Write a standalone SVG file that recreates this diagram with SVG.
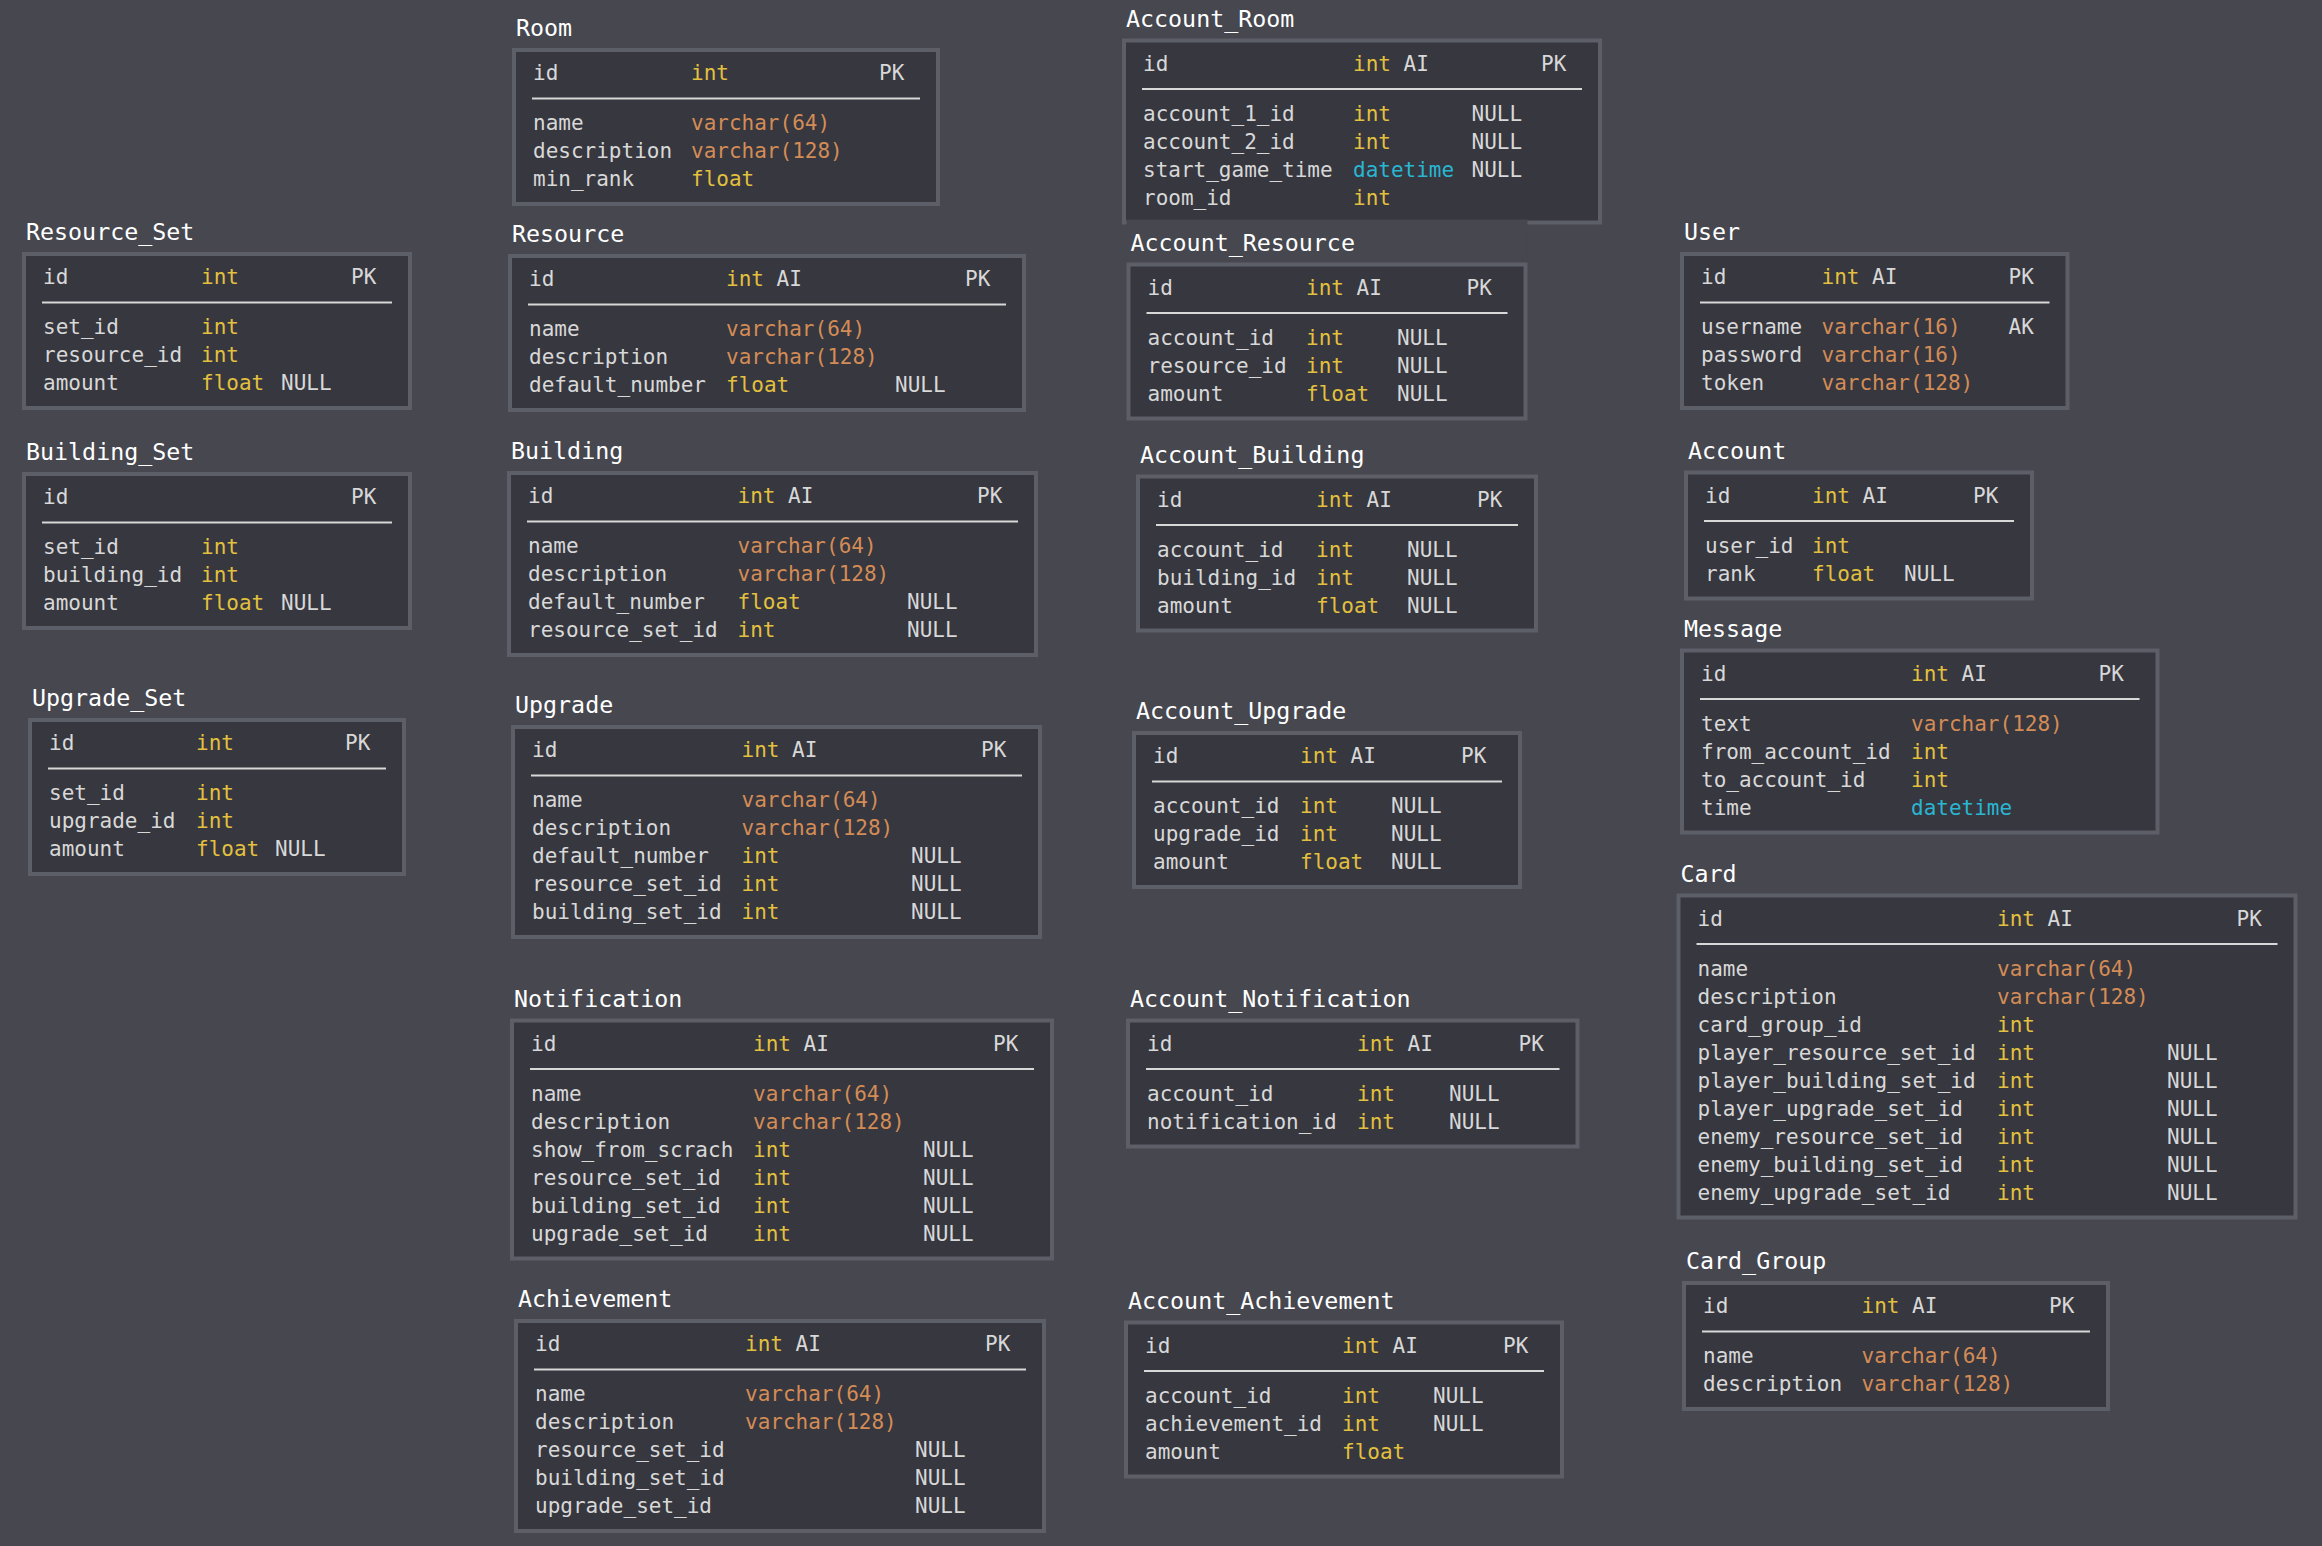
<svg xmlns="http://www.w3.org/2000/svg" width="2322" height="1546" viewBox="0 0 2322 1546">
<style>
.box{fill:#36373f;stroke:#5c5e68;stroke-width:4}
.sep{stroke:#d8d8d8;stroke-width:2}
.lbl{font-family:"DejaVu Sans Mono","Liberation Mono",monospace;font-size:23.3px;fill:#ffffff}
text.t{font-family:"DejaVu Sans Mono","Liberation Mono",monospace;font-size:21px;fill:#d8d8d8}
.y{fill:#e3c03e}
.o{fill:#d48c56}
.c{fill:#2ab6d2}
.w{fill:#d8d8d8}
</style>
<rect width="2322" height="1546" fill="#46474f"/>
<g id="connectors"></g>

<g id="Room" transform="translate(512,48)">
<text class="lbl" x="4" y="-12">Room</text>
<rect class="box" x="2" y="2" width="424" height="154"/>
<text class="t" y="32"><tspan x="21">id</tspan><tspan x="179" class="y">int</tspan><tspan x="367">PK</tspan></text>
<line class="sep" x1="20" y1="50.5" x2="408" y2="50.5"/>
<text class="t" y="82"><tspan x="21">name</tspan><tspan x="179" class="o">varchar(64)</tspan></text>
<text class="t" y="110"><tspan x="21">description</tspan><tspan x="179" class="o">varchar(128)</tspan></text>
<text class="t" y="138"><tspan x="21">min_rank</tspan><tspan x="179" class="y">float</tspan></text>
</g>

<g id="Resource_Set" transform="translate(22,252)">
<text class="lbl" x="4" y="-12">Resource_Set</text>
<rect class="box" x="2" y="2" width="386" height="154"/>
<text class="t" y="32"><tspan x="21">id</tspan><tspan x="179" class="y">int</tspan><tspan x="329">PK</tspan></text>
<line class="sep" x1="20" y1="50.5" x2="370" y2="50.5"/>
<text class="t" y="82"><tspan x="21">set_id</tspan><tspan x="179" class="y">int</tspan></text>
<text class="t" y="110"><tspan x="21">resource_id</tspan><tspan x="179" class="y">int</tspan></text>
<text class="t" y="138"><tspan x="21">amount</tspan><tspan x="179" class="y">float</tspan><tspan x="259">NULL</tspan></text>
</g>

<g id="Building_Set" transform="translate(22,472)">
<text class="lbl" x="4" y="-12">Building_Set</text>
<rect class="box" x="2" y="2" width="386" height="154"/>
<text class="t" y="32"><tspan x="21">id</tspan><tspan x="329">PK</tspan></text>
<line class="sep" x1="20" y1="50.5" x2="370" y2="50.5"/>
<text class="t" y="82"><tspan x="21">set_id</tspan><tspan x="179" class="y">int</tspan></text>
<text class="t" y="110"><tspan x="21">building_id</tspan><tspan x="179" class="y">int</tspan></text>
<text class="t" y="138"><tspan x="21">amount</tspan><tspan x="179" class="y">float</tspan><tspan x="259">NULL</tspan></text>
</g>

<g id="Upgrade_Set" transform="translate(28,718)">
<text class="lbl" x="4" y="-12">Upgrade_Set</text>
<rect class="box" x="2" y="2" width="374" height="154"/>
<text class="t" y="32"><tspan x="21">id</tspan><tspan x="168" class="y">int</tspan><tspan x="317">PK</tspan></text>
<line class="sep" x1="20" y1="50.5" x2="358" y2="50.5"/>
<text class="t" y="82"><tspan x="21">set_id</tspan><tspan x="168" class="y">int</tspan></text>
<text class="t" y="110"><tspan x="21">upgrade_id</tspan><tspan x="168" class="y">int</tspan></text>
<text class="t" y="138"><tspan x="21">amount</tspan><tspan x="168" class="y">float</tspan><tspan x="247">NULL</tspan></text>
</g>

<g id="Resource" transform="translate(508,254)">
<text class="lbl" x="4" y="-12">Resource</text>
<rect class="box" x="2" y="2" width="514" height="154"/>
<text class="t" y="32"><tspan x="21">id</tspan><tspan x="218" class="y">int</tspan><tspan class="w"> AI</tspan><tspan x="457">PK</tspan></text>
<line class="sep" x1="20" y1="50.5" x2="498" y2="50.5"/>
<text class="t" y="82"><tspan x="21">name</tspan><tspan x="218" class="o">varchar(64)</tspan></text>
<text class="t" y="110"><tspan x="21">description</tspan><tspan x="218" class="o">varchar(128)</tspan></text>
<text class="t" y="138"><tspan x="21">default_number</tspan><tspan x="218" class="y">float</tspan><tspan x="387">NULL</tspan></text>
</g>

<g id="Building" transform="translate(507,471)">
<text class="lbl" x="4" y="-12">Building</text>
<rect class="box" x="2" y="2" width="527" height="182"/>
<text class="t" y="32"><tspan x="21">id</tspan><tspan x="230.5" class="y">int</tspan><tspan class="w"> AI</tspan><tspan x="470">PK</tspan></text>
<line class="sep" x1="20" y1="50.5" x2="511" y2="50.5"/>
<text class="t" y="82"><tspan x="21">name</tspan><tspan x="230.5" class="o">varchar(64)</tspan></text>
<text class="t" y="110"><tspan x="21">description</tspan><tspan x="230.5" class="o">varchar(128)</tspan></text>
<text class="t" y="138"><tspan x="21">default_number</tspan><tspan x="230.5" class="y">float</tspan><tspan x="400">NULL</tspan></text>
<text class="t" y="166"><tspan x="21">resource_set_id</tspan><tspan x="230.5" class="y">int</tspan><tspan x="400">NULL</tspan></text>
</g>

<g id="Upgrade" transform="translate(511,725)">
<text class="lbl" x="4" y="-12">Upgrade</text>
<rect class="box" x="2" y="2" width="527" height="210"/>
<text class="t" y="32"><tspan x="21">id</tspan><tspan x="230.5" class="y">int</tspan><tspan class="w"> AI</tspan><tspan x="470">PK</tspan></text>
<line class="sep" x1="20" y1="50.5" x2="511" y2="50.5"/>
<text class="t" y="82"><tspan x="21">name</tspan><tspan x="230.5" class="o">varchar(64)</tspan></text>
<text class="t" y="110"><tspan x="21">description</tspan><tspan x="230.5" class="o">varchar(128)</tspan></text>
<text class="t" y="138"><tspan x="21">default_number</tspan><tspan x="230.5" class="y">int</tspan><tspan x="400">NULL</tspan></text>
<text class="t" y="166"><tspan x="21">resource_set_id</tspan><tspan x="230.5" class="y">int</tspan><tspan x="400">NULL</tspan></text>
<text class="t" y="194"><tspan x="21">building_set_id</tspan><tspan x="230.5" class="y">int</tspan><tspan x="400">NULL</tspan></text>
</g>

<g id="Notification" transform="translate(510,1018.5)">
<text class="lbl" x="4" y="-12">Notification</text>
<rect class="box" x="2" y="2" width="540" height="238"/>
<text class="t" y="32"><tspan x="21">id</tspan><tspan x="243" class="y">int</tspan><tspan class="w"> AI</tspan><tspan x="483">PK</tspan></text>
<line class="sep" x1="20" y1="50.5" x2="524" y2="50.5"/>
<text class="t" y="82"><tspan x="21">name</tspan><tspan x="243" class="o">varchar(64)</tspan></text>
<text class="t" y="110"><tspan x="21">description</tspan><tspan x="243" class="o">varchar(128)</tspan></text>
<text class="t" y="138"><tspan x="21">show_from_scrach</tspan><tspan x="243" class="y">int</tspan><tspan x="413">NULL</tspan></text>
<text class="t" y="166"><tspan x="21">resource_set_id</tspan><tspan x="243" class="y">int</tspan><tspan x="413">NULL</tspan></text>
<text class="t" y="194"><tspan x="21">building_set_id</tspan><tspan x="243" class="y">int</tspan><tspan x="413">NULL</tspan></text>
<text class="t" y="222"><tspan x="21">upgrade_set_id</tspan><tspan x="243" class="y">int</tspan><tspan x="413">NULL</tspan></text>
</g>

<g id="Achievement" transform="translate(514,1319)">
<text class="lbl" x="4" y="-12">Achievement</text>
<rect class="box" x="2" y="2" width="528" height="210"/>
<text class="t" y="32"><tspan x="21">id</tspan><tspan x="231" class="y">int</tspan><tspan class="w"> AI</tspan><tspan x="471">PK</tspan></text>
<line class="sep" x1="20" y1="50.5" x2="512" y2="50.5"/>
<text class="t" y="82"><tspan x="21">name</tspan><tspan x="231" class="o">varchar(64)</tspan></text>
<text class="t" y="110"><tspan x="21">description</tspan><tspan x="231" class="o">varchar(128)</tspan></text>
<text class="t" y="138"><tspan x="21">resource_set_id</tspan><tspan x="401">NULL</tspan></text>
<text class="t" y="166"><tspan x="21">building_set_id</tspan><tspan x="401">NULL</tspan></text>
<text class="t" y="194"><tspan x="21">upgrade_set_id</tspan><tspan x="401">NULL</tspan></text>
</g>

<g id="Account_Room" transform="translate(1122,38.5)">
<text class="lbl" x="4" y="-12">Account_Room</text>
<rect class="box" x="2" y="2" width="476" height="182"/>
<text class="t" y="32"><tspan x="21">id</tspan><tspan x="231" class="y">int</tspan><tspan class="w"> AI</tspan><tspan x="419">PK</tspan></text>
<line class="sep" x1="20" y1="50.5" x2="460" y2="50.5"/>
<text class="t" y="82"><tspan x="21">account_1_id</tspan><tspan x="231" class="y">int</tspan><tspan x="349.5">NULL</tspan></text>
<text class="t" y="110"><tspan x="21">account_2_id</tspan><tspan x="231" class="y">int</tspan><tspan x="349.5">NULL</tspan></text>
<text class="t" y="138"><tspan x="21">start_game_time</tspan><tspan x="231" class="c">datetime</tspan><tspan x="349.5">NULL</tspan></text>
<text class="t" y="166"><tspan x="21">room_id</tspan><tspan x="231" class="y">int</tspan></text>
</g>

<g id="Account_Resource" transform="translate(1126.5,262.5)">
<rect x="0" y="-43" width="401" height="41" fill="#46474f"/>
<text class="lbl" x="4" y="-12">Account_Resource</text>
<rect class="box" x="2" y="2" width="397" height="154"/>
<text class="t" y="32"><tspan x="21">id</tspan><tspan x="179.5" class="y">int</tspan><tspan class="w"> AI</tspan><tspan x="340">PK</tspan></text>
<line class="sep" x1="20" y1="50.5" x2="381" y2="50.5"/>
<text class="t" y="82"><tspan x="21">account_id</tspan><tspan x="179.5" class="y">int</tspan><tspan x="270.5">NULL</tspan></text>
<text class="t" y="110"><tspan x="21">resource_id</tspan><tspan x="179.5" class="y">int</tspan><tspan x="270.5">NULL</tspan></text>
<text class="t" y="138"><tspan x="21">amount</tspan><tspan x="179.5" class="y">float</tspan><tspan x="270.5">NULL</tspan></text>
</g>

<g id="Account_Building" transform="translate(1136,474.5)">
<text class="lbl" x="4" y="-12">Account_Building</text>
<rect class="box" x="2" y="2" width="398" height="154"/>
<text class="t" y="32"><tspan x="21">id</tspan><tspan x="180" class="y">int</tspan><tspan class="w"> AI</tspan><tspan x="341">PK</tspan></text>
<line class="sep" x1="20" y1="50.5" x2="382" y2="50.5"/>
<text class="t" y="82"><tspan x="21">account_id</tspan><tspan x="180" class="y">int</tspan><tspan x="271">NULL</tspan></text>
<text class="t" y="110"><tspan x="21">building_id</tspan><tspan x="180" class="y">int</tspan><tspan x="271">NULL</tspan></text>
<text class="t" y="138"><tspan x="21">amount</tspan><tspan x="180" class="y">float</tspan><tspan x="271">NULL</tspan></text>
</g>

<g id="Account_Upgrade" transform="translate(1132,731)">
<text class="lbl" x="4" y="-12">Account_Upgrade</text>
<rect class="box" x="2" y="2" width="386" height="154"/>
<text class="t" y="32"><tspan x="21">id</tspan><tspan x="168" class="y">int</tspan><tspan class="w"> AI</tspan><tspan x="329">PK</tspan></text>
<line class="sep" x1="20" y1="50.5" x2="370" y2="50.5"/>
<text class="t" y="82"><tspan x="21">account_id</tspan><tspan x="168" class="y">int</tspan><tspan x="259">NULL</tspan></text>
<text class="t" y="110"><tspan x="21">upgrade_id</tspan><tspan x="168" class="y">int</tspan><tspan x="259">NULL</tspan></text>
<text class="t" y="138"><tspan x="21">amount</tspan><tspan x="168" class="y">float</tspan><tspan x="259">NULL</tspan></text>
</g>

<g id="Account_Notification" transform="translate(1126,1018.5)">
<text class="lbl" x="4" y="-12">Account_Notification</text>
<rect class="box" x="2" y="2" width="449.5" height="126"/>
<text class="t" y="32"><tspan x="21">id</tspan><tspan x="231" class="y">int</tspan><tspan class="w"> AI</tspan><tspan x="392.5">PK</tspan></text>
<line class="sep" x1="20" y1="50.5" x2="433.5" y2="50.5"/>
<text class="t" y="82"><tspan x="21">account_id</tspan><tspan x="231" class="y">int</tspan><tspan x="323">NULL</tspan></text>
<text class="t" y="110"><tspan x="21">notification_id</tspan><tspan x="231" class="y">int</tspan><tspan x="323">NULL</tspan></text>
</g>

<g id="Account_Achievement" transform="translate(1124,1320.5)">
<text class="lbl" x="4" y="-12">Account_Achievement</text>
<rect class="box" x="2" y="2" width="436" height="154"/>
<text class="t" y="32"><tspan x="21">id</tspan><tspan x="218" class="y">int</tspan><tspan class="w"> AI</tspan><tspan x="379">PK</tspan></text>
<line class="sep" x1="20" y1="50.5" x2="420" y2="50.5"/>
<text class="t" y="82"><tspan x="21">account_id</tspan><tspan x="218" class="y">int</tspan><tspan x="309">NULL</tspan></text>
<text class="t" y="110"><tspan x="21">achievement_id</tspan><tspan x="218" class="y">int</tspan><tspan x="309">NULL</tspan></text>
<text class="t" y="138"><tspan x="21">amount</tspan><tspan x="218" class="y">float</tspan></text>
</g>

<g id="User" transform="translate(1680,252)">
<text class="lbl" x="4" y="-12">User</text>
<rect class="box" x="2" y="2" width="385.5" height="154"/>
<text class="t" y="32"><tspan x="21">id</tspan><tspan x="141.5" class="y">int</tspan><tspan class="w"> AI</tspan><tspan x="328.5">PK</tspan></text>
<line class="sep" x1="20" y1="50.5" x2="369.5" y2="50.5"/>
<text class="t" y="82"><tspan x="21">username</tspan><tspan x="141.5" class="o">varchar(16)</tspan><tspan x="328.5">AK</tspan></text>
<text class="t" y="110"><tspan x="21">password</tspan><tspan x="141.5" class="o">varchar(16)</tspan></text>
<text class="t" y="138"><tspan x="21">token</tspan><tspan x="141.5" class="o">varchar(128)</tspan></text>
</g>

<g id="Account" transform="translate(1684,470.5)">
<text class="lbl" x="4" y="-12">Account</text>
<rect class="box" x="2" y="2" width="346" height="126"/>
<text class="t" y="32"><tspan x="21">id</tspan><tspan x="128" class="y">int</tspan><tspan class="w"> AI</tspan><tspan x="289">PK</tspan></text>
<line class="sep" x1="20" y1="50.5" x2="330" y2="50.5"/>
<text class="t" y="82"><tspan x="21">user_id</tspan><tspan x="128" class="y">int</tspan></text>
<text class="t" y="110"><tspan x="21">rank</tspan><tspan x="128" class="y">float</tspan><tspan x="220">NULL</tspan></text>
</g>

<g id="Message" transform="translate(1680,648.5)">
<text class="lbl" x="4" y="-12">Message</text>
<rect class="box" x="2" y="2" width="475.5" height="182"/>
<text class="t" y="32"><tspan x="21">id</tspan><tspan x="231" class="y">int</tspan><tspan class="w"> AI</tspan><tspan x="418.5">PK</tspan></text>
<line class="sep" x1="20" y1="50.5" x2="459.5" y2="50.5"/>
<text class="t" y="82"><tspan x="21">text</tspan><tspan x="231" class="o">varchar(128)</tspan></text>
<text class="t" y="110"><tspan x="21">from_account_id</tspan><tspan x="231" class="y">int</tspan></text>
<text class="t" y="138"><tspan x="21">to_account_id</tspan><tspan x="231" class="y">int</tspan></text>
<text class="t" y="166"><tspan x="21">time</tspan><tspan x="231" class="c">datetime</tspan></text>
</g>

<g id="Card" transform="translate(1676.5,893.5)">
<text class="lbl" x="4" y="-12">Card</text>
<rect class="box" x="2" y="2" width="617" height="322"/>
<text class="t" y="32"><tspan x="21">id</tspan><tspan x="320.5" class="y">int</tspan><tspan class="w"> AI</tspan><tspan x="560">PK</tspan></text>
<line class="sep" x1="20" y1="50.5" x2="601" y2="50.5"/>
<text class="t" y="82"><tspan x="21">name</tspan><tspan x="320.5" class="o">varchar(64)</tspan></text>
<text class="t" y="110"><tspan x="21">description</tspan><tspan x="320.5" class="o">varchar(128)</tspan></text>
<text class="t" y="138"><tspan x="21">card_group_id</tspan><tspan x="320.5" class="y">int</tspan></text>
<text class="t" y="166"><tspan x="21">player_resource_set_id</tspan><tspan x="320.5" class="y">int</tspan><tspan x="490.5">NULL</tspan></text>
<text class="t" y="194"><tspan x="21">player_building_set_id</tspan><tspan x="320.5" class="y">int</tspan><tspan x="490.5">NULL</tspan></text>
<text class="t" y="222"><tspan x="21">player_upgrade_set_id</tspan><tspan x="320.5" class="y">int</tspan><tspan x="490.5">NULL</tspan></text>
<text class="t" y="250"><tspan x="21">enemy_resource_set_id</tspan><tspan x="320.5" class="y">int</tspan><tspan x="490.5">NULL</tspan></text>
<text class="t" y="278"><tspan x="21">enemy_building_set_id</tspan><tspan x="320.5" class="y">int</tspan><tspan x="490.5">NULL</tspan></text>
<text class="t" y="306"><tspan x="21">enemy_upgrade_set_id</tspan><tspan x="320.5" class="y">int</tspan><tspan x="490.5">NULL</tspan></text>
</g>

<g id="Card_Group" transform="translate(1682,1281)">
<text class="lbl" x="4" y="-12">Card_Group</text>
<rect class="box" x="2" y="2" width="424" height="126"/>
<text class="t" y="32"><tspan x="21">id</tspan><tspan x="179.5" class="y">int</tspan><tspan class="w"> AI</tspan><tspan x="367">PK</tspan></text>
<line class="sep" x1="20" y1="50.5" x2="408" y2="50.5"/>
<text class="t" y="82"><tspan x="21">name</tspan><tspan x="179.5" class="o">varchar(64)</tspan></text>
<text class="t" y="110"><tspan x="21">description</tspan><tspan x="179.5" class="o">varchar(128)</tspan></text>
</g>
</svg>
